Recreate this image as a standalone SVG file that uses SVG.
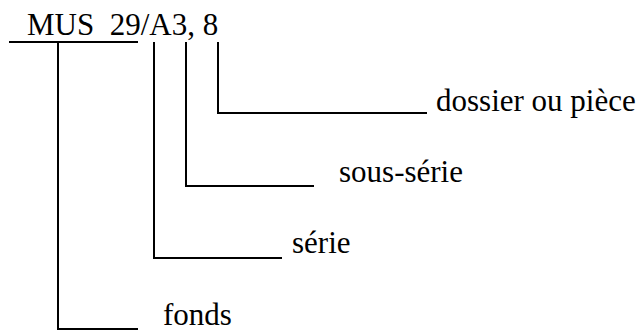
<svg xmlns="http://www.w3.org/2000/svg" width="643" height="331" viewBox="0 0 643 331">
<style>
.t{font-family:'Liberation Serif','Times New Roman',Times,'DejaVu Serif',serif;font-size:31px;fill:#000}
.c{fill:none;stroke:#000;stroke-width:2}
</style>
<rect width="643" height="331" fill="#fff"/>
<g id="code"><text class="t" x="27" y="35" xml:space="preserve">MUS  29/A3, 8</text></g>
<g id="connectors">
<line class="c" x1="9" y1="42" x2="138" y2="42"/>
<polyline class="c" points="58,42 58,329 138,329"/>
<polyline class="c" points="154,42 154,258 282,258"/>
<polyline class="c" points="186,42 186,186 314,186"/>
<polyline class="c" points="218,42 218,113 427,113"/>
</g>
<g id="dossier"><text class="t" x="436" y="111">dossier ou pièce</text></g>
<g id="sous-serie"><text class="t" x="339" y="182">sous-série</text></g>
<g id="serie"><text class="t" x="292" y="253">série</text></g>
<g id="fonds"><text class="t" x="163" y="325">fonds</text></g>
</svg>
